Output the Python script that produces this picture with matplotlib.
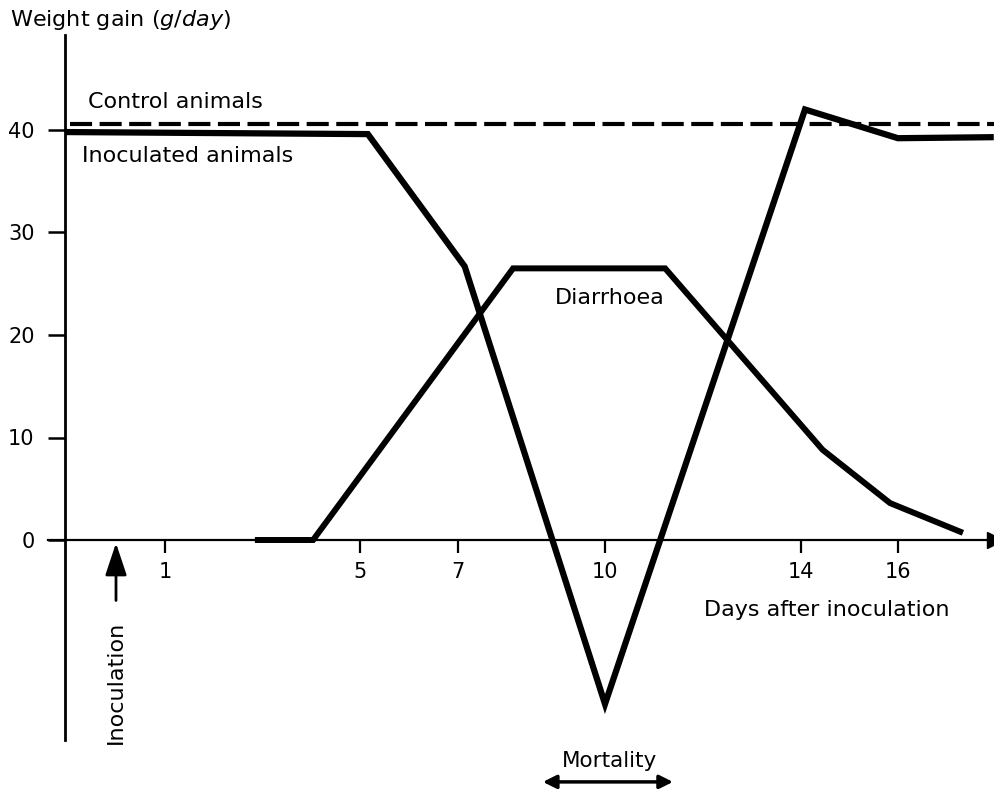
import matplotlib
matplotlib.use("Agg")
import matplotlib.pyplot as plt

plt.rcParams['font.family'] = ['DejaVu Sans']
plt.rcParams['mathtext.fontset'] = 'dejavusans'

# ---- data ----
inoc_days = [-1.04, 5.15, 7.13, 10.0, 14.09, 15.99, 17.95]
inoc_gain = [39.8, 39.6, 26.7, -16.0, 42.0, 39.2, 39.3]

diar_days = [2.84, 4.03, 8.12, 11.23, 14.45, 15.83, 17.32]
diar_gain = [0.0, 0.0, 26.5, 26.5, 8.8, 3.6, 0.7]

control_days = [-0.95, 17.95]
control_gain = [40.6, 40.6]

xticks = [1, 5, 7, 10, 14, 16]
yticks = [0, 10, 20, 30, 40]

# ---- figure ----
W, H = 995, 789
fig = plt.figure(figsize=(W / 100, H / 100), dpi=100)
ax = fig.add_axes([0, 0, 1, 1])
ax.patch.set_alpha(0)
px_day, x0_px = 48.9, 116.0
px_unit, y0_px = 10.25, 540.0
ax.set_xlim(-x0_px / px_day, (W - x0_px) / px_day)
ax.set_ylim(-(H - y0_px) / px_unit, y0_px / px_unit)

# axes spines
for s in ['top', 'right']:
    ax.spines[s].set_visible(False)
ax.spines['left'].set_position(('data', -1.04))
ax.spines['left'].set_bounds(-19.5, 49.3)
ax.spines['left'].set_linewidth(2.0)
ax.spines['bottom'].set_position(('data', 0))
ax.spines['bottom'].set_bounds(-1.39, 17.9)
ax.spines['bottom'].set_linewidth(1.6)
ax.plot(1, 0, marker='>', ms=11, color='k', transform=ax.get_yaxis_transform(),
        clip_on=False)

ax.set_xticks(xticks)
ax.set_xticklabels([str(t) for t in xticks])
ax.set_yticks(yticks)
ax.set_yticklabels([str(t) for t in yticks])
ax.tick_params(axis='x', direction='out', length=9, width=1.6, pad=7, labelsize=15)
ax.tick_params(axis='y', direction='out', length=12, width=1.8, pad=10, labelsize=15)

# lines
ax.plot(control_days, control_gain, color='k', lw=3, ls=(0, (5.3, 1.8)),
        solid_capstyle='butt', dash_capstyle='butt')
ax.plot(inoc_days, inoc_gain, color='k', lw=4.5, solid_joinstyle='miter',
        solid_capstyle='butt')
ax.plot(diar_days, diar_gain, color='k', lw=4.3, solid_joinstyle='miter',
        solid_capstyle='butt')

# texts
ax.text(-2.17, 50.7, r'Weight gain $\mathit{(g/day)}$', fontsize=16, va='center', ha='left')
ax.text(-0.57, 42.7, 'Control animals', fontsize=16, va='center', ha='left')
ax.text(-0.70, 37.5, 'Inoculated animals', fontsize=16, va='center', ha='left')
ax.text(10.1, 23.6, 'Diarrhoea', fontsize=16, va='center', ha='center')
ax.text(12.02, -6.8, 'Days after inoculation', fontsize=16, va='center', ha='left')
ax.text(10.1, -21.6, 'Mortality', fontsize=15.5, va='center', ha='center')
ax.text(0.0, -13.9, 'Inoculation', fontsize=16, va='center', ha='center', rotation=90)

# arrows
ax.annotate('', xy=(0.0, -0.3), xytext=(0.0, -5.9),
            arrowprops=dict(arrowstyle='-|>,head_length=0.9,head_width=0.3', lw=2,
                            color='k', mutation_scale=22, shrinkA=0, shrinkB=0))
ax.annotate('', xy=(8.73, -23.6), xytext=(11.39, -23.6),
            arrowprops=dict(arrowstyle='<|-|>', lw=2.5, color='k', mutation_scale=20,
                            shrinkA=0, shrinkB=0))

fig.savefig('out.png', dpi=100, facecolor='white')
